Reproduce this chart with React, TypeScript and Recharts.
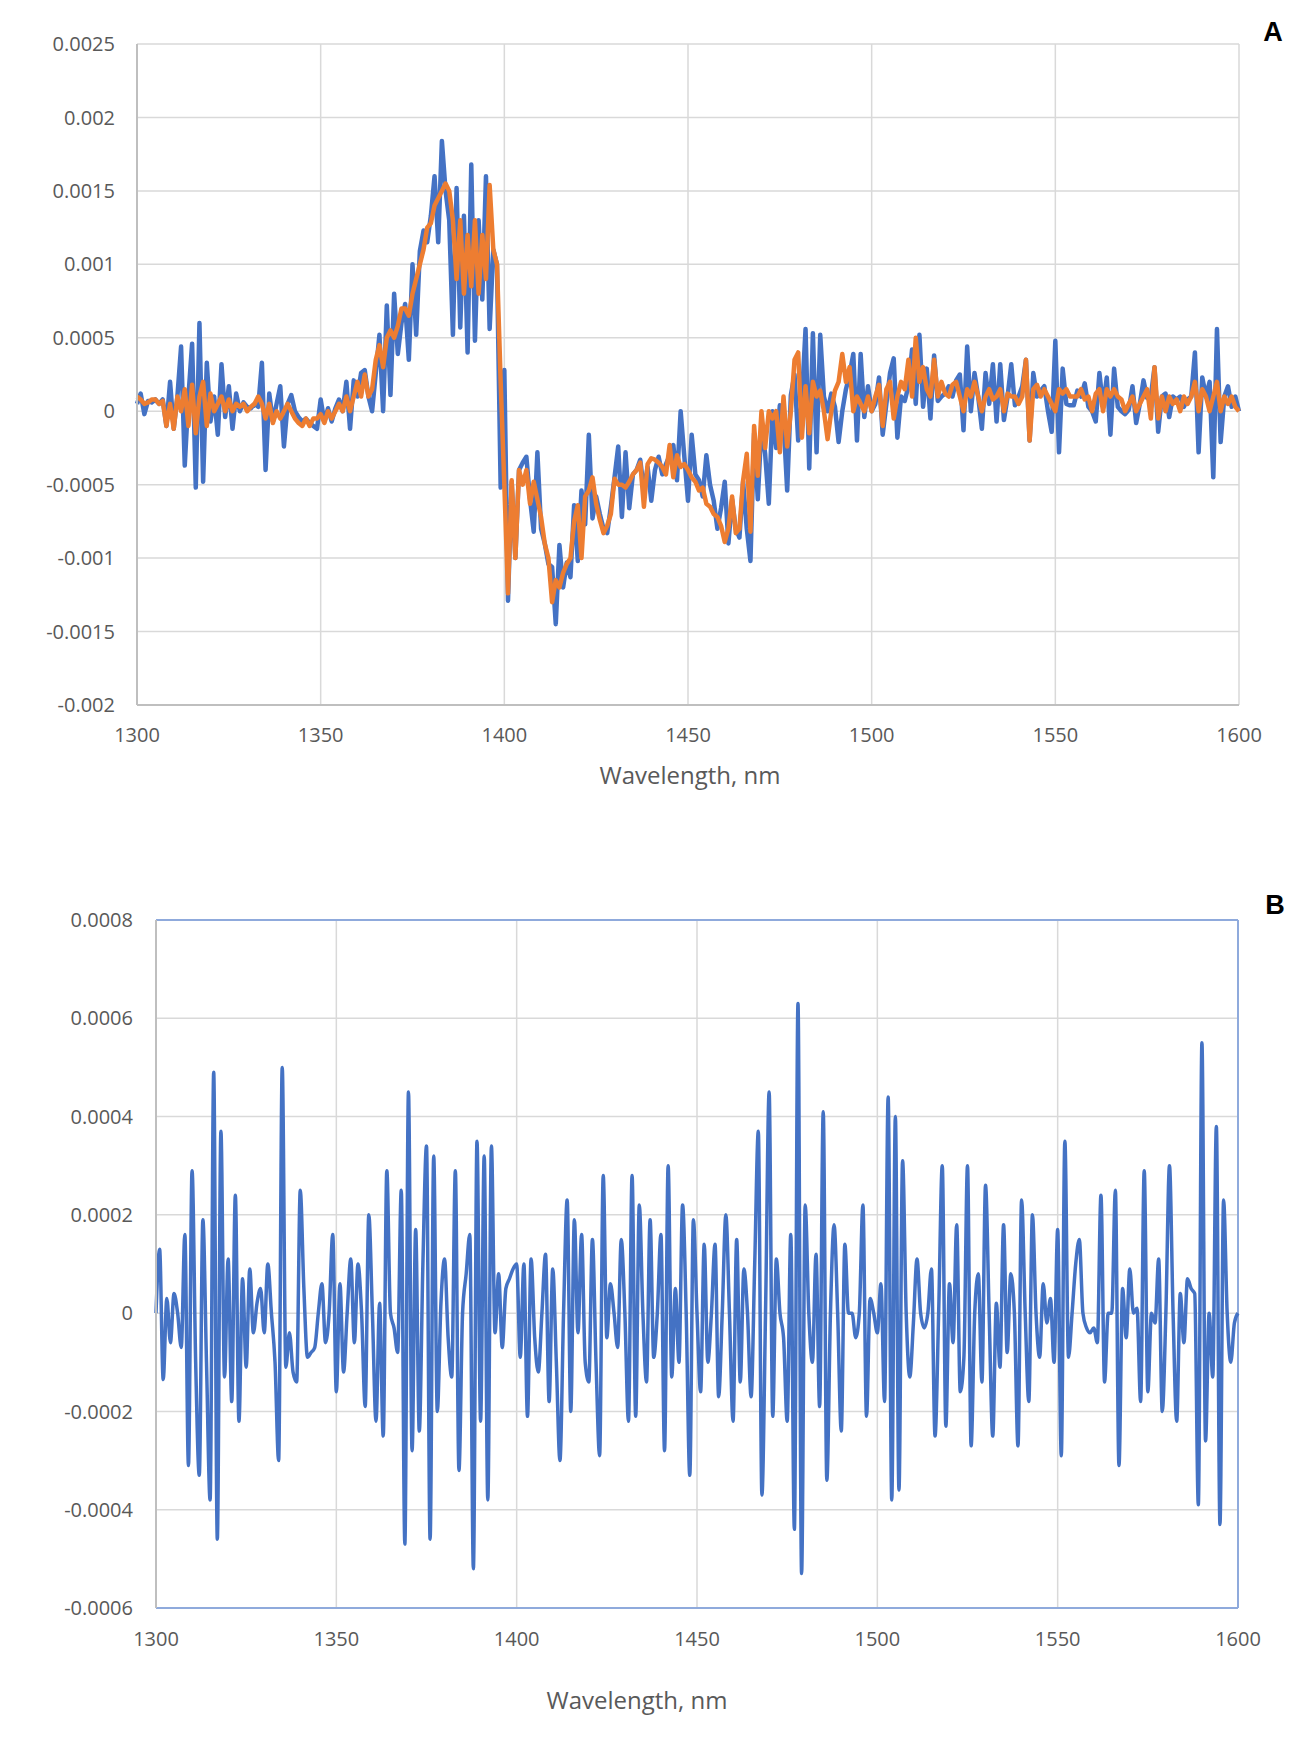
import React from 'react';
import { LineChart, Line, XAxis, YAxis, CartesianGrid, ReferenceLine } from 'recharts';

// Wavelength grid, 1 nm steps from 1300 to 1600
const WAVELENGTHS: number[] = Array.from({ length: 301 }, (_, i) => 1300 + i);

const X_TICKS = [1300, 1350, 1400, 1450, 1500, 1550, 1600];
const A_Y_TICKS = [-0.002, -0.0015, -0.001, -0.0005, 0, 0.0005, 0.001, 0.0015, 0.002, 0.0025];
const B_Y_TICKS = [-0.0006, -0.0004, -0.0002, 0, 0.0002, 0.0004, 0.0006, 0.0008];

// Panel A, blue series
const A_BLUE = [
  0.00005, 0.00012, -0.00002, 0.00007, 0.00006, 0.00008, 0.00005, 0.00008, -0.0001, 0.0002,
  -0.00012, 0.0001, 0.00044, -0.00037, 0.0001, 0.00046, -0.00052, 0.0006, -0.00048, 0.00033,
  -0.00007, 0.0001, -0.00016, 0.00032, -0.00004, 0.00017, -0.00012, 0.00012, 0.0, 0.00006,
  0.00003, 0.00002, 0.00005, 0.00003, 0.00033, -0.0004, 0.00012, -0.00007, 0.00005, 0.00017,
  -0.00024, 0.00005, 0.00011, 0.0, -0.00004, -0.00007, -0.00005, -0.00008, -0.0001, -0.00012,
  0.00008, -0.00007, 0.00002, -0.00007, 0.00002, 0.00008, 0.0, 0.0002, -0.00012, 0.00021,
  0.0001, 0.00026, 0.00028, 0.0001, 0.0, 0.00026, 0.00052, 0.0, 0.00072, 0.00011,
  0.0008, 0.00039, 0.0006, 0.00073, 0.00035, 0.001, 0.00052, 0.00109, 0.00123, 0.00115,
  0.00133, 0.0016, 0.00115, 0.00184, 0.0015, 0.0013, 0.00052, 0.00152, 0.00057, 0.00133,
  0.0004, 0.00168, 0.00048, 0.0013, 0.00076, 0.0016, 0.00056, 0.0011, 0.001, -0.00052,
  0.00028, -0.00129, -0.00048, -0.001, -0.0004, -0.00035, -0.00031, -0.0006, -0.00082, -0.00028,
  -0.0008, -0.0009, -0.00104, -0.00106, -0.00145, -0.00091, -0.0012, -0.00103, -0.00113, -0.00064,
  -0.00102, -0.00054, -0.00077, -0.00016, -0.00073, -0.00058, -0.0007, -0.0008, -0.00083, -0.00065,
  -0.00045, -0.00024, -0.00072, -0.00028, -0.00066, -0.00043, -0.0004, -0.00033, -0.00054, -0.00038,
  -0.00061, -0.0004, -0.00031, -0.00043, -0.00036, -0.0003, -0.00023, -0.00047, 0.0, -0.00031,
  -0.00061, -0.00016, -0.00043, -0.00047, -0.00058, -0.0003, -0.0005, -0.00061, -0.0008, -0.00066,
  -0.00048, -0.0009, -0.0006, -0.0008, -0.00086, -0.00048, -0.0008, -0.00102, -0.00015, -0.0006,
  -0.0001, -0.00029, -0.00063, 0.0, -0.00025, 0.00004, -0.00006, -0.00054, 0.00011, 0.00025,
  -0.0002, 0.00008, 0.00056, -0.00039, 0.00053, -0.00028, 0.00052, 0.0001, 0.0, 0.00012,
  0.00003, -0.00021, 0.0, 0.00015, 0.00025, 0.00039, -0.0002, 0.00039, -0.00004, 0.00017,
  0.0, 0.00005, 0.00023, -0.00016, 0.00005, 0.00026, 0.00036, -0.00018, 0.0001, 0.00007,
  0.00017, 0.00042, 0.00005, 0.00052, 0.00003, 0.00029, -0.00005, 0.00038, 0.00007, 0.0001,
  0.00012, 0.00017, 0.0001, 0.00021, 0.00025, -0.00013, 0.00044, 0.0, 0.00026, 0.0001,
  -0.00012, 0.00026, 0.00005, 0.00032, -0.00007, 0.00032, -0.00006, 0.0001, 0.00032, 0.00004,
  0.0001, 0.00017, 0.00035, -0.0002, 0.00026, 0.0001, 0.00014, 0.00017, 0.0, -0.00014,
  0.00048, -0.00028, 0.00029, 0.00005, 0.00004, 0.00004, 0.00014, 0.0001, 0.00019, 0.00003,
  0.0, -0.00007, 0.00026, 0.00003, 0.00023, -0.00016, 0.00029, 0.00003, 0.0, -0.00002,
  0.00001, 0.00017, -0.00008, 0.00005, 0.00021, 0.00009, 0.0001, 0.0003, -0.00014, 0.0001,
  0.00012, -0.00004, 0.0001, 0.00008, 0.0001, 0.00003, 0.00008, 0.0001, 0.0004, -0.00028,
  0.00023, 0.0001, 0.0002, -0.00045, 0.00056, -0.00021, 0.0001, 0.00017, 0.00003, 0.0001,
  0.0,
];

// Panel A, orange series
const A_ORANGE = [
  0.0001, 0.00008, 0.00005, 0.00006, 0.00008, 0.00008, 0.00005, 0.00007, -0.0001, 0.00005,
  -0.00012, 0.0001, 0.0, 0.00015, -0.0001, 0.00018, -0.00015, 0.0001, 0.0002, -0.0001,
  0.00012, 0.0, 0.00005, 0.0001, 0.0, 0.00008, 0.0, 0.00005, 0.00003, 0.00005,
  0.0, 0.00003, 0.00005, 0.0001, 0.00005, -0.00005, 0.00005, -0.00008, 0.0, -0.00005,
  0.0, 0.00005, 0.0, -0.00005, -0.00008, -0.0001, -0.00005, -0.0001, -0.00005, -0.00005,
  -0.00002, -0.00008, 0.0, -0.00005, 0.0, 0.00005, 0.0, 0.0001, 0.0, 0.0001,
  0.0002, 0.0001, 0.00025, 0.0001, 0.00015, 0.00035, 0.00045, 0.0003, 0.0005, 0.00055,
  0.0005, 0.00058, 0.0007, 0.0007, 0.00065, 0.0008, 0.0009, 0.001, 0.0011, 0.00125,
  0.00128, 0.0014, 0.00145, 0.0015, 0.00155, 0.0015, 0.0013, 0.0009, 0.0013, 0.0008,
  0.0012, 0.00085, 0.0013, 0.0008, 0.0012, 0.0009, 0.00154, 0.0011, 0.001, 0.0002,
  -0.0005, -0.00124, -0.00047, -0.001, -0.0004, -0.0005, -0.0004, -0.00063, -0.00048, -0.0006,
  -0.00072, -0.0009, -0.001, -0.0013, -0.00115, -0.0012, -0.0011, -0.00104, -0.001, -0.00075,
  -0.00064, -0.001, -0.00058, -0.00054, -0.00045, -0.00063, -0.00074, -0.00083, -0.00078, -0.0007,
  -0.00046, -0.0005, -0.0005, -0.00052, -0.00048, -0.00043, -0.0004, -0.00035, -0.00065, -0.00036,
  -0.00032, -0.00033, -0.00035, -0.00038, -0.00043, -0.00023, -0.00045, -0.0003, -0.00038, -0.00036,
  -0.0004, -0.00045, -0.00048, -0.00054, -0.00052, -0.00063, -0.00065, -0.0007, -0.00072, -0.00078,
  -0.00089, -0.0008, -0.00058, -0.00083, -0.0008, -0.00047, -0.00029, -0.00082, -0.0001, -0.00044,
  0.0, -0.00025, 0.0, -0.00005, 0.0, -0.00028, 0.0001, -0.00024, 0.0, 0.00035,
  0.0004, -0.00018, 0.00017, -0.00015, 0.0002, 0.0001, 0.00014, 0.0, -0.00019, 0.0,
  0.00014, 0.0002, 0.00039, 0.0002, 0.0003, 0.0, 0.0001, 0.00005, 0.0, 0.0001,
  0.0, 0.0001, 0.00018, -0.0001, 0.00015, 0.0002, -0.00005, 0.0001, 0.0002, 0.00015,
  0.00035, 0.0001, 0.0005, 0.0002, 0.0003, 0.00015, 0.0001, 0.00035, 0.0001, 0.0002,
  0.00012, 0.0001, 0.00018, 0.0002, 0.0001, 0.0, 0.00015, 0.0001, 0.0002, 0.0001,
  0.0, 0.0001, 0.00015, 0.00008, 0.0001, 0.00015, 0.0, 0.00012, 0.0001, 0.0001,
  0.00005, 0.0001, 0.00035, -0.0002, 0.00015, 0.00018, 0.0001, 0.00015, 0.0001, 0.00005,
  0.0, 0.00015, 0.00012, 0.00015, 0.0001, 0.0001, 0.0001, 0.00015, 0.00008, 0.0001,
  0.0, 0.00012, 0.00015, 0.0, 0.00015, 0.0001, 0.00015, 0.0001, 0.00008, 0.0,
  0.00005, 0.0001, 0.0, 0.00005, 0.0001, 0.00015, -0.00005, 0.0003, -0.00005, 0.0001,
  0.0, 0.0001, 0.00005, 0.00008, 0.0, 0.0001, 0.00005, 0.0001, 0.0002, 0.0,
  0.00015, 0.0001, 0.0, 0.0001, 0.0002, 0.0, 0.0001, 0.00005, 0.0001, 0.00003,
  0.0,
];

// Panel B series
const B_VALUES = [
  0.0, 0.00013, -0.000135, 0.00003, -0.00006, 0.00004, 0.0, -0.00007, 0.00016, -0.00031,
  0.00029, -0.0001, -0.00033, 0.00019, -0.0001, -0.00038, 0.00049, -0.00046, 0.00037, -0.00013,
  0.00011, -0.00018, 0.00024, -0.00022, 0.00007, -0.00011, 0.00009, -0.00004, 0.00002, 0.00005,
  -0.00004, 0.0001, 0.0, -0.0001, -0.0003, 0.0005, -0.00011, -0.00004, -0.00012, -0.00014,
  0.00025, 0.00005, -0.00009, -0.00008, -0.00007, 0.0, 0.00006, -0.00006, 0.0, 0.00016,
  -0.00016, 0.00006, -0.00012, 0.0, 0.00011, -0.00006, 0.0001, 0.0, -0.00019, 0.0002,
  0.0, -0.00022, 0.00002, -0.00025, 0.00029, 0.0, -0.00003, -0.00008, 0.00025, -0.00047,
  0.00045, -0.00028, 0.00017, -0.00024, 0.0001, 0.00034, -0.00046, 0.00032, -0.0002, 0.00002,
  0.00011, -0.00005, -0.00013, 0.00029, -0.00032, 0.0, 0.00008, 0.00016, -0.00052, 0.00035,
  -0.00022, 0.00032, -0.00038, 0.00034, -0.00004, 0.00008, -0.00007, 0.00005, 0.00007, 0.00009,
  0.0001, -0.00009, 0.0001, -0.00021, 0.00011, -0.00005, -0.00012, 0.0, 0.00012, -0.00018,
  0.00009, -0.0001, -0.0003, 0.0, 0.00023, -0.0002, 0.00019, -0.00004, 0.00016, -0.0001,
  -0.00014, 0.00015, -0.0001, -0.00029, 0.00028, -0.00005, 0.00006, 0.0, -0.00007, 0.00015,
  0.0, -0.00022, 0.00028, -0.00021, 0.00022, 0.0, -0.00014, 0.00019, -0.00009, 0.0,
  0.00016, -0.00028, 0.0003, -0.00013, 0.00005, -0.0001, 0.00022, 0.0, -0.00033, 0.00019,
  0.0, -0.00016, 0.00014, -0.0001, 0.0, 0.00014, -0.00017, 0.0, 0.0002, 0.0,
  -0.00022, 0.00015, -0.00014, 0.00009, 0.0, -0.00017, 0.0001, 0.00037, -0.00037, 0.0,
  0.00045, -0.00021, 0.00011, 0.0, -0.00005, -0.00022, 0.00016, -0.00044, 0.00063, -0.00053,
  0.00022, 0.0, -0.0001, 0.00012, -0.00019, 0.00041, -0.00034, 0.0, 0.00018, 0.0,
  -0.00024, 0.00014, 0.0, 0.0, -0.00005, 0.0, 0.00022, -0.00021, 0.00003, 0.0,
  -0.00004, 0.00006, -0.00018, 0.00044, -0.00038, 0.0004, -0.00036, 0.00031, 0.0, -0.00013,
  -0.00002, 0.00011, 0.0, -0.00003, 0.0, 0.00009, -0.00025, 0.0, 0.0003, -0.00023,
  0.00006, -0.00006, 0.00018, -0.00016, -0.00009, 0.0003, -0.00027, 0.0, 0.00008, -0.00014,
  0.00026, 0.0, -0.00025, 0.00002, -0.00011, 0.00018, -0.00008, 0.00008, 0.0, -0.00027,
  0.00023, 0.0, -0.00018, 0.0002, 0.0, -0.00009, 0.00006, -0.00002, 0.00003, -0.0001,
  0.00017, -0.00029, 0.00035, -0.00009, 0.0, 0.0001, 0.00015, 0.0, -0.00003, -0.00004,
  -0.00003, -0.00006, 0.00024, -0.00014, 0.0, 0.0, 0.00025, -0.00031, 0.00005, -0.00005,
  0.00009, 0.0, 0.00001, -0.00018, 0.00029, -0.00016, 0.0, -0.00002, 0.00011, -0.0002,
  0.0, 0.0003, 0.0, -0.00022, 0.00004, -0.00006, 0.00007, 0.00005, 0.00004, -0.00039,
  0.00055, -0.00026, 0.0, -0.00013, 0.00038, -0.00043, 0.00023, 0.0, -0.0001, -0.00002,
  0.0,
];

const rowsA = WAVELENGTHS.map((w, i) => ({ w, blue: A_BLUE[i], orange: A_ORANGE[i] }));
const rowsB = WAVELENGTHS.map((w, i) => ({ w, diff: B_VALUES[i] }));

const BLUE = '#4472C4';
const ORANGE = '#ED7D31';
const TEXT = '#595959';
const GRID = '#d9d9d9';
const AXIS_GREY = '#bfbfbf';
const FRAME_BLUE = '#8FAADC';
const FONT = '"Open Sans", sans-serif';

const tickStyle = { fontSize: 20, fill: TEXT, fontFamily: FONT };
const fmt = (v: number) => String(v);

const titleStyle: React.CSSProperties = {
  position: 'absolute',
  transform: 'translate(-50%, -50%)',
  fontFamily: FONT,
  fontSize: 24,
  color: TEXT,
  whiteSpace: 'nowrap',
  lineHeight: 1,
};

const letterStyle: React.CSSProperties = {
  position: 'absolute',
  transform: 'translate(-50%, -50%)',
  fontFamily: '"Liberation Sans", Arial, sans-serif',
  fontWeight: 700,
  fontSize: 27,
  color: '#000',
  lineHeight: 1,
};

export default function App() {
  return (
    <div style={{ position: 'absolute', left: 0, top: 0, width: 1299, height: 1743, background: '#fff' }}>
      <div style={{ position: 'absolute', left: 0, top: 0 }}>
        <LineChart width={1299} height={760} data={rowsA} margin={{ top: 44, right: 60, left: 0, bottom: 0 }}>
          <CartesianGrid stroke={GRID} strokeWidth={1.5} />
          <XAxis
            dataKey="w"
            type="number"
            domain={[1300, 1600]}
            ticks={X_TICKS}
            interval={0}
            height={55}
            tickSize={0}
            tickMargin={23}
            tickLine={false}
            axisLine={{ stroke: AXIS_GREY, strokeWidth: 2 }}
            tick={tickStyle}
          />
          <YAxis
            type="number"
            domain={[-0.002, 0.0025]}
            ticks={A_Y_TICKS}
            interval={0}
            width={137}
            tickSize={0}
            tickMargin={22}
            tickLine={false}
            axisLine={{ stroke: AXIS_GREY, strokeWidth: 2 }}
            tick={tickStyle}
            tickFormatter={fmt}
          />
          <Line type="linear" dataKey="blue" stroke={BLUE} strokeWidth={4.5} dot={false} isAnimationActive={false} strokeLinejoin="round" />
          <Line type="linear" dataKey="orange" stroke={ORANGE} strokeWidth={4.5} dot={false} isAnimationActive={false} strokeLinejoin="round" />
        </LineChart>
      </div>

      <div style={{ position: 'absolute', left: 0, top: 860 }}>
        <LineChart width={1299} height={800} data={rowsB} margin={{ top: 60, right: 61, left: 0, bottom: 0 }}>
          <CartesianGrid stroke={GRID} strokeWidth={1.5} />
          <XAxis
            dataKey="w"
            type="number"
            domain={[1300, 1600]}
            ticks={X_TICKS}
            interval={0}
            height={52}
            tickSize={0}
            tickMargin={24}
            tickLine={false}
            axisLine={{ stroke: FRAME_BLUE, strokeWidth: 2 }}
            tick={tickStyle}
          />
          <YAxis
            type="number"
            domain={[-0.0006, 0.0008]}
            ticks={B_Y_TICKS}
            interval={0}
            width={156}
            tickSize={0}
            tickMargin={23}
            tickLine={false}
            axisLine={{ stroke: AXIS_GREY, strokeWidth: 2 }}
            tick={tickStyle}
            tickFormatter={fmt}
          />
          <ReferenceLine y={0.0008} stroke={FRAME_BLUE} strokeWidth={2} />
          <ReferenceLine x={1600} stroke={FRAME_BLUE} strokeWidth={2} />
          <Line type="monotone" dataKey="diff" stroke={BLUE} strokeWidth={3.5} dot={false} isAnimationActive={false} strokeLinejoin="round" />
        </LineChart>
      </div>

      <div style={{ ...titleStyle, left: 690, top: 775 }}>Wavelength, nm</div>
      <div style={{ ...titleStyle, left: 637, top: 1700 }}>Wavelength, nm</div>
      <div style={{ ...letterStyle, left: 1273, top: 32 }}>A</div>
      <div style={{ ...letterStyle, left: 1275, top: 905 }}>B</div>
    </div>
  );
}
